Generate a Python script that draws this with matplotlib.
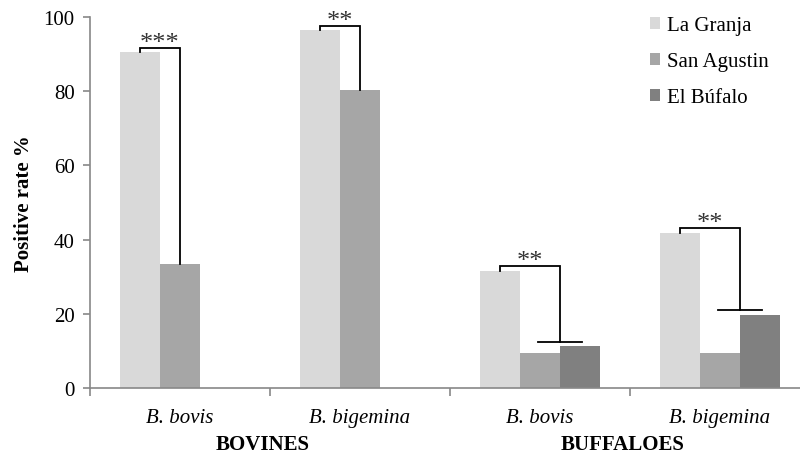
import matplotlib
matplotlib.use("Agg")
import matplotlib.pyplot as plt
import numpy as np

categories = ["B. bovis", "B. bigemina", "B. bovis", "B. bigemina"]
groups = ["BOVINES", "BUFFALOES"]
series_names = ["La Granja", "San Agustin", "El Búfalo"]
la_granja = [90.5, 96.5, 31.5, 41.8]
san_agustin = [33.5, 80.2, 9.5, 9.5]
el_bufalo = [0, 0, 11.3, 19.8]
colors = ["#d9d9d9", "#a6a6a6", "#808080"]
yticks = [0, 20, 40, 60, 80, 100]

plt.rcParams['font.family'] = ['Liberation Serif', 'DejaVu Serif']

fig = plt.figure(figsize=(8, 4.56), dpi=100)
ax = fig.add_axes([90/800, 1-389/456, 720/800, (389-18)/456])

x = np.arange(len(categories))
w = 0.2222
data = [la_granja, san_agustin, el_bufalo]
for i, (vals, c, name) in enumerate(zip(data, colors, series_names)):
    ax.bar(x + (i-1)*w, vals, width=w, color=c, label=name, linewidth=0)

ax.set_xlim(-0.5, 3.5)
ax.set_ylim(0, 100)
ax.set_yticks(yticks)
ax.set_yticklabels([str(v) for v in yticks], fontsize=15)
ax.set_xticks(x)
ax.set_xticklabels(categories, fontsize=15, style='italic')
ax.tick_params(axis='x', which='major', length=0, pad=14.5)
ax.set_xticks(np.arange(-0.5, 3.5, 1), minor=True)
ax.tick_params(axis='x', which='minor', length=6, color='#888888', width=1.2)
ax.tick_params(axis='y', length=5, color='#888888', width=1.2, pad=6)
for s in ['top', 'right']:
    ax.spines[s].set_visible(False)
for s in ['left', 'bottom']:
    ax.spines[s].set_color('#888888')
    ax.spines[s].set_linewidth(1.2)

ax.set_ylabel("Positive rate %", fontsize=15, fontweight='bold')
ax.yaxis.set_label_coords(-0.078, 0.5)

# group labels
for gi, g in enumerate(groups):
    ax.text(gi*2 + 0.46, -0.15, g, transform=ax.get_xaxis_transform(),
            ha='center', va='center', fontsize=15, fontweight='bold')

lw = 1.3
def stars_text(xl, xr, ytop, stars):
    ax.annotate(stars, xy=((xl + xr)/2, ytop), xytext=(0, -0.6),
                textcoords='offset points', ha='center', va='baseline',
                fontsize=19, color='#333333')

def bracket_pair(i, stars):
    xl, xr = i - w, i
    ytop = la_granja[i] + 1.1
    ax.plot([xl, xl, xr, xr], [la_granja[i], ytop, ytop, san_agustin[i]],
            color='black', lw=lw, solid_joinstyle='miter')
    stars_text(xl, xr, ytop, stars)

def bracket_group(i, stars):
    xl = i - w
    xr = i + w/2
    ytop = la_granja[i] + 1.3
    ylow = max(san_agustin[i], el_bufalo[i]) + 1.2
    ax.plot([xl, xl, xr, xr], [la_granja[i], ytop, ytop, ylow], color='black', lw=lw,
            solid_joinstyle='miter')
    ax.plot([xr - 0.12, xr + 0.12], [ylow, ylow], color='black', lw=lw)
    stars_text(xl, xr, ytop, stars)

bracket_pair(0, "***")
bracket_pair(1, "**")
bracket_group(2, "**")
bracket_group(3, "**")

leg = ax.legend(loc='upper left', bbox_to_anchor=(650/800, 1-17/456),
                bbox_transform=fig.transFigure, frameon=False, fontsize=15,
                handlelength=0.5, handleheight=0.5, handletextpad=0.3,
                labelspacing=0.82, borderpad=0, borderaxespad=0)

fig.savefig("out.png", dpi=100)
